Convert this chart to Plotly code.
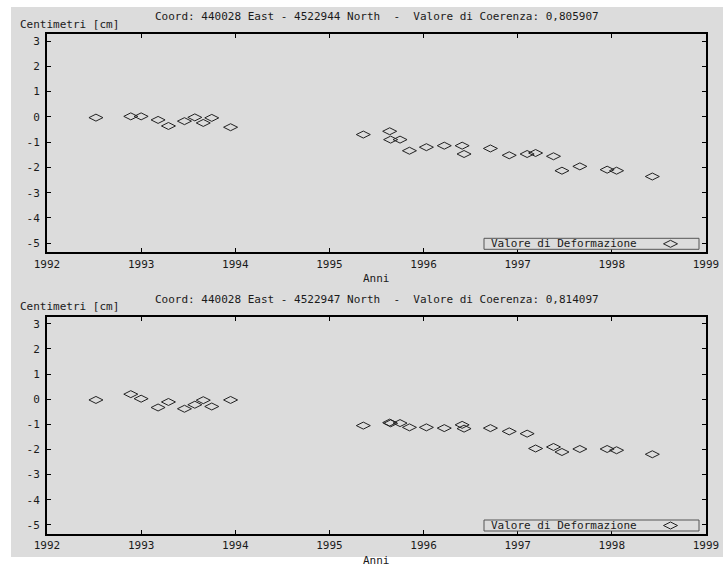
import plotly.graph_objects as go

# ---- data ----
dates = [1992.52, 1992.89, 1993.00, 1993.18, 1993.29, 1993.46, 1993.57, 1993.66, 1993.75, 1993.95,
         1995.36, 1995.64, 1995.65, 1995.75, 1995.85, 1996.03, 1996.22, 1996.41, 1996.43, 1996.71,
         1996.91, 1997.10, 1997.19, 1997.38, 1997.47, 1997.66, 1997.95, 1998.05, 1998.43]
values_top = [-0.03, 0.02, 0.02, -0.12, -0.36, -0.17, -0.02, -0.24, -0.04, -0.41,
              -0.70, -0.57, -0.90, -0.90, -1.34, -1.20, -1.14, -1.14, -1.47, -1.25,
              -1.52, -1.47, -1.43, -1.56, -2.13, -1.96, -2.09, -2.13, -2.36]
values_bottom = [-0.03, 0.20, 0.02, -0.33, -0.11, -0.38, -0.22, -0.04, -0.29, -0.03,
                 -1.05, -0.93, -0.96, -0.95, -1.12, -1.12, -1.15, -1.02, -1.17, -1.15,
                 -1.28, -1.37, -1.96, -1.90, -2.10, -1.98, -1.98, -2.03, -2.19]
x_ticks = [1992, 1993, 1994, 1995, 1996, 1997, 1998, 1999]
y_ticks = [-5, -4, -3, -2, -1, 0, 1, 2, 3]
y_ticktext = ["-5", "-4", "-3", "-2", "-1", "0", "1", "2", "3"]
titles = ["Coord: 440028 East - 4522944 North  -  Valore di Coerenza: 0,805907",
          "Coord: 440028 East - 4522947 North  -  Valore di Coerenza: 0,814097"]
y_label = "Centimetri [cm]"
x_label = "Anni"
legend_label = "Valore di Deformazione"

W, H = 723, 567
BG = "#dcdcdc"
TXT = "#1a1a1a"
FONT = dict(family="DejaVu Sans Mono, Liberation Mono, monospace", size=11, color=TXT)


def px(x):
    return x / W


def py(y):
    return 1 - y / H


fig = go.Figure()

marker = dict(symbol="diamond-wide-open", size=10, color="#222222", line=dict(width=1, color="#222222"))
fig.add_trace(go.Scatter(x=dates, y=values_top, mode="markers", marker=marker,
                         name=legend_label, xaxis="x", yaxis="y", showlegend=False))
fig.add_trace(go.Scatter(x=dates, y=values_bottom, mode="markers", marker=marker,
                         name=legend_label, xaxis="x2", yaxis="y2", showlegend=False))

xdom = [px(47), px(706)]
panels = [(34, 252.3), (316.7, 534)]

axis_common = dict(showline=True, linecolor="black", linewidth=2, mirror="ticks",
                   ticks="inside", ticklen=4, tickwidth=1, tickcolor="black",
                   showgrid=False, zeroline=False, tickfont=FONT, automargin=False)

layout = dict(width=W, height=H, autosize=False,
              margin=dict(l=0, r=0, t=0, b=0, pad=0),
              paper_bgcolor="white", plot_bgcolor=BG,
              showlegend=False, font=FONT)

shapes = [dict(type="rect", xref="paper", yref="paper", x0=px(11), x1=1, y0=py(557), y1=py(7),
               fillcolor=BG, line=dict(width=0), layer="below")]
annotations = []

for i, (top, bot) in enumerate(panels):
    sx = "" if i == 0 else str(i + 1)
    layout["xaxis" + sx] = dict(domain=xdom, range=[1992, 1999], tickvals=x_ticks,
                                anchor="y" + sx, **axis_common)
    layout["yaxis" + sx] = dict(domain=[py(bot), py(top)], range=[-5.36, 3.28],
                                tickvals=y_ticks, ticktext=y_ticktext, ticklabelstandoff=3,
                                anchor="x" + sx, **axis_common)
    # title
    annotations.append(dict(text=titles[i], xref="paper", yref="paper", x=px(376.5), y=py(top - 17),
                            xanchor="center", yanchor="middle", showarrow=False, font=FONT))
    # y label
    annotations.append(dict(text=y_label, xref="paper", yref="paper", x=px(18), y=py(top - 10),
                            xanchor="left", yanchor="middle", showarrow=False, font=FONT))
    # x label
    annotations.append(dict(text=x_label, xref="paper", yref="paper", x=px(376.5), y=py(bot + 26),
                            xanchor="center", yanchor="middle", showarrow=False, font=FONT))
    # legend box
    ly0, ly1 = bot - 14, bot - 3
    shapes.append(dict(type="rect", xref="paper", yref="paper", x0=px(484), x1=px(699),
                       y0=py(ly1), y1=py(ly0), line=dict(color="#555555", width=1),
                       fillcolor=BG))
    annotations.append(dict(text=legend_label, xref="paper", yref="paper", x=px(489),
                            y=py((ly0 + ly1) / 2), xanchor="left", yanchor="middle",
                            showarrow=False, font=FONT))
    cx, cy = 670.5, (ly0 + ly1) / 2
    path = "M {} {} L {} {} L {} {} L {} {} Z".format(
        px(cx - 7), py(cy), px(cx), py(cy - 3.5), px(cx + 7), py(cy), px(cx), py(cy + 3.5))
    shapes.append(dict(type="path", xref="paper", yref="paper", path=path,
                       line=dict(color="#222222", width=1)))

layout["shapes"] = shapes
layout["annotations"] = annotations
fig.update_layout(**layout)

fig.write_html("out.html")
